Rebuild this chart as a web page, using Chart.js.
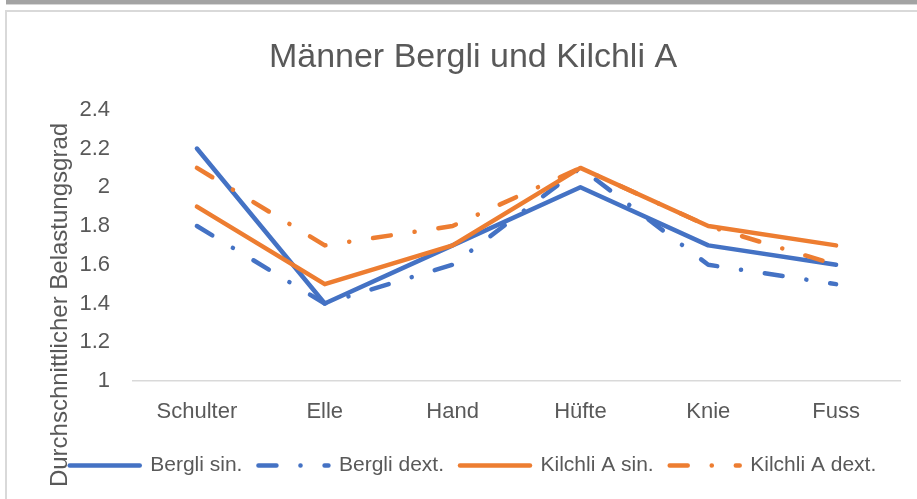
<!DOCTYPE html>
<html>
<head>
<meta charset="utf-8">
<script src="https://cdn.jsdelivr.net/npm/chart.js@4"></script>
<style>
  html, body { margin: 0; padding: 0; background: #ffffff; }
  #wrap { position: relative; width: 917px; height: 499px; }
</style>
</head>
<body>
<div id="wrap"><canvas id="c" width="917" height="499"></canvas></div>
<script>
// Body regions and average load grade per side
const categories = ['Schulter', 'Elle', 'Hand', 'Hüfte', 'Knie', 'Fuss'];
const berglisin = [2.2, 1.4, 1.7, 2.0, 1.7, 1.6];
const berglidext = [1.8, 1.4, 1.6, 2.1, 1.6, 1.5];
const kilchlisin = [1.9, 1.5, 1.7, 2.1, 1.8, 1.7];
const kilchlidext = [2.1, 1.7, 1.8, 2.1, 1.8, 1.6];
const yTickLabels = ['1', '1.2', '1.4', '1.6', '1.8', '2', '2.2', '2.4'];

const BLUE = '#4472C4';
const ORANGE = '#ED7D31';
const TEXT = '#595959';
const FONT = "'Liberation Sans', Arial, sans-serif";
const dashDot = [18, 24, 0.1, 24];
const PAD_BOTTOM = 13;

function series(label, data, color, dashed, order) {
  return {
    label, data, order,
    borderColor: color,
    backgroundColor: color,
    borderWidth: 4.5,
    borderDash: dashed ? dashDot : [],
    borderCapStyle: 'round',
    borderJoinStyle: 'round',
    pointRadius: 0,
    pointHoverRadius: 0,
    tension: 0,
    fill: false
  };
}

// Outer frame: grey strip on top and a light border around the chart
const framePlugin = {
  id: 'frame',
  beforeDraw(chart) {
    const ctx = chart.ctx;
    ctx.save();
    ctx.fillStyle = '#ffffff';
    ctx.fillRect(0, 0, chart.width, chart.height);
    ctx.fillStyle = '#a3a3a3';
    ctx.fillRect(6, 0, chart.width - 6, 4);
    ctx.fillStyle = '#d6d6d6';
    ctx.fillRect(6, 4, chart.width - 6, 1);
    ctx.strokeStyle = '#d9d9d9';
    ctx.lineWidth = 2;
    ctx.beginPath();
    ctx.moveTo(6, chart.height);
    ctx.lineTo(6, 11);
    ctx.lineTo(chart.width, 11);
    ctx.stroke();
    ctx.restore();
  }
};

// Rotated title for the value axis
const yTitlePlugin = {
  id: 'yTitle',
  afterDraw(chart) {
    const ctx = chart.ctx;
    ctx.save();
    ctx.translate(60, 305);
    ctx.rotate(-Math.PI / 2);
    ctx.font = '24px ' + FONT;
    ctx.fillStyle = TEXT;
    ctx.textAlign = 'center';
    ctx.textBaseline = 'middle';
    ctx.fillText('Durchschnittlicher Belastungsgrad', 0, 0);
    ctx.restore();
  }
};

new Chart(document.getElementById('c'), {
  type: 'line',
  data: {
    labels: categories,
    datasets: [
      series('Bergli sin.', berglisin, BLUE, false, 3),
      series('Bergli dext.', berglidext, BLUE, true, 2),
      series('Kilchli A sin.', kilchlisin, ORANGE, false, 1),
      series('Kilchli A dext.', kilchlidext, ORANGE, true, 0)
    ]
  },
  options: {
    responsive: false,
    animation: false,
    devicePixelRatio: 1,
    layout: { padding: { left: 46, right: 17, top: 0, bottom: PAD_BOTTOM } },
    plugins: {
      tooltip: { enabled: false },
      title: {
        display: true,
        text: 'Männer Bergli und Kilchli A',
        color: TEXT,
        font: { family: FONT, size: 34, weight: 'normal', lineHeight: 1.2 },
        padding: { top: 37, bottom: 32 }
      },
      legend: {
        position: 'bottom',
        align: 'center',
        labels: {
          usePointStyle: true,
          pointStyle: 'line',
          pointStyleWidth: 70,
          boxHeight: 21,
          padding: 16,
          color: TEXT,
          font: { family: FONT, size: 21 },
          sort: (a, b) => a.datasetIndex - b.datasetIndex,
          generateLabels(chart) {
            const items = Chart.defaults.plugins.legend.labels.generateLabels(chart);
            items.forEach(it => {
              const ds = chart.data.datasets[it.datasetIndex];
              it.lineDash = ds.borderDash;
              it.lineCap = 'round';
              it.strokeStyle = ds.borderColor;
              it.fillStyle = ds.borderColor;
              it.lineWidth = 4.5;
            });
            return items;
          }
        }
      }
    },
    scales: {
      x: {
        offset: true,
        grid: { display: false },
        border: { display: true, color: '#d9d9d9', width: 1.5 },
        ticks: { color: TEXT, font: { family: FONT, size: 22 }, padding: 10, maxRotation: 0 },
        afterFit(scale) {
          const lg = scale.chart.legend;
          const lh = lg && lg.height ? lg.height : 37;
          scale.height = 499 - PAD_BOTTOM - lh - 381;
        }
      },
      y: {
        min: 1,
        max: 2.4,
        grid: { display: false },
        border: { display: false },
        ticks: {
          stepSize: 0.2,
          color: TEXT,
          font: { family: FONT, size: 22 },
          padding: 15,
          callback: (v, i) => yTickLabels[i]
        },
        afterFit(scale) { scale.width = 87; }
      }
    }
  },
  plugins: [framePlugin, yTitlePlugin]
});
</script>
</body>
</html>
